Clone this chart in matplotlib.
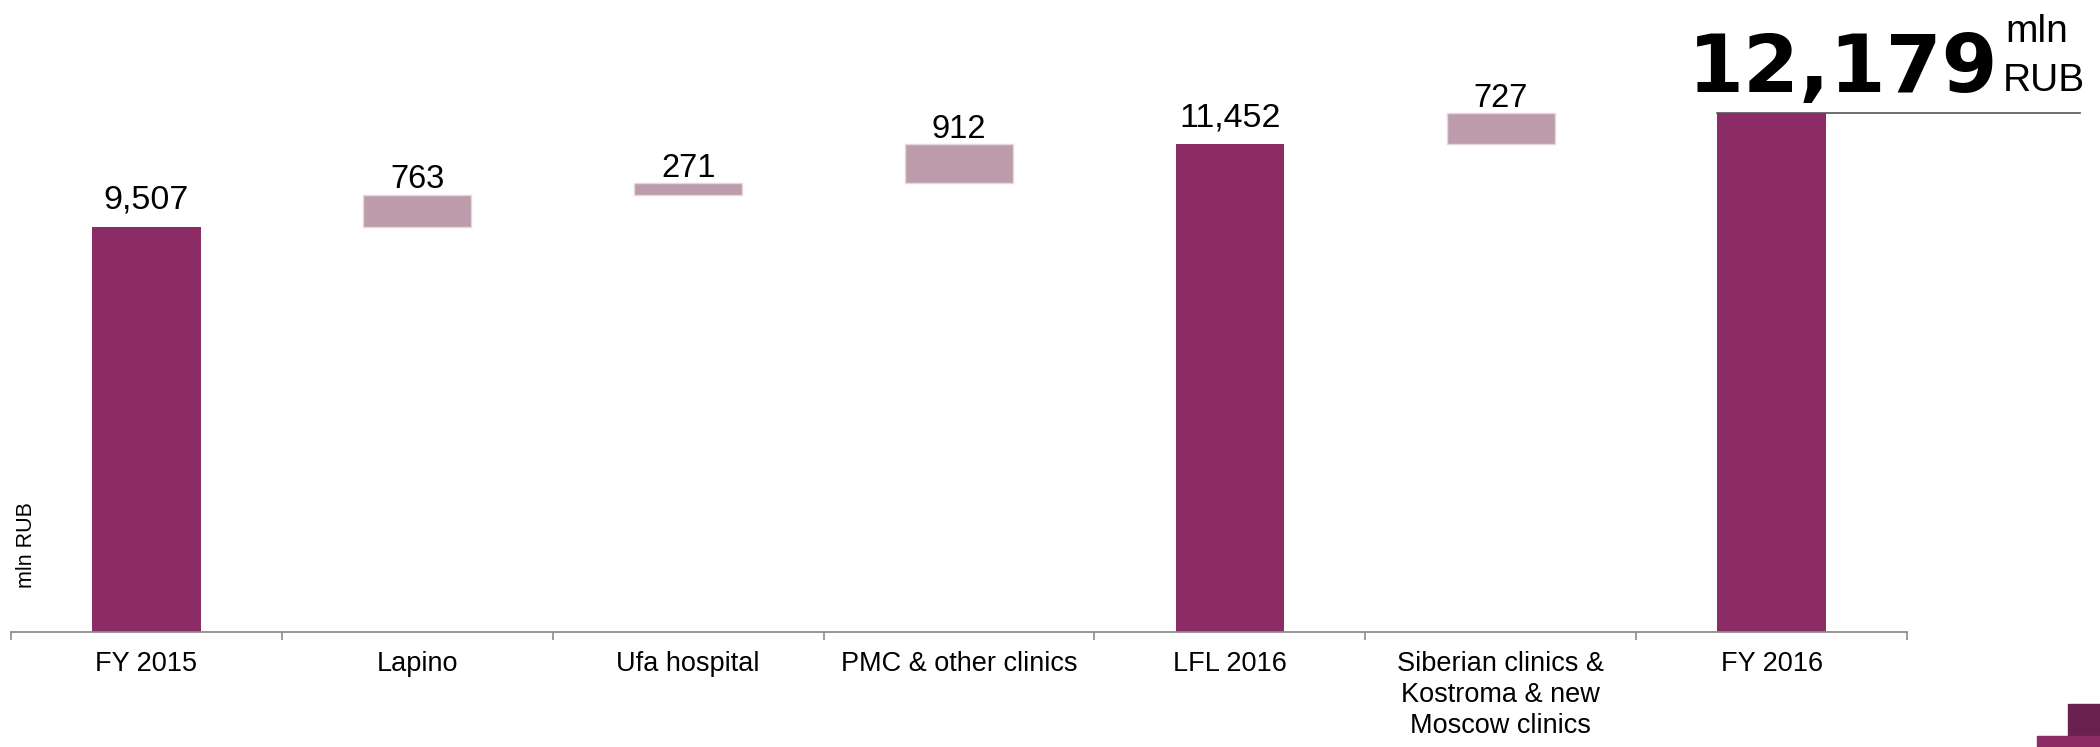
import numpy as np
import matplotlib.pyplot as plt
from matplotlib.patches import Rectangle

plt.rcParams['font.family'] = ['Liberation Sans', 'DejaVu Sans']

# Revenue bridge FY 2015 -> FY 2016, mln RUB
categories = ["FY 2015", "Lapino", "Ufa hospital", "PMC & other clinics", "LFL 2016",
              "Siberian clinics &\nKostroma & new\nMoscow clinics", "FY 2016"]
values = [9507, 763, 271, 912, 11452, 727, 12179]
is_total = [True, False, False, False, True, False, True]

total_color = '#8b2c66'
step_color = '#bc9baa'

fig = plt.figure(figsize=(21, 7.47), dpi=100)
ax = fig.add_axes([11 / 2100, 1 - 632 / 747, (1907 - 11) / 2100, 632 / 747])

x = np.arange(len(categories))
bottoms = []
running = 0
for v, t in zip(values, is_total):
    if t:
        bottoms.append(0)
        running = v
    else:
        bottoms.append(running)
        running += v

w = 0.4
for i, (v, b, t) in enumerate(zip(values, bottoms, is_total)):
    if t:
        ax.bar(x[i], v, w, bottom=b, color=total_color, zorder=2)
    else:
        ax.bar(x[i], v, w, bottom=b, color=step_color, edgecolor='#e6d6de',
               linewidth=1, zorder=2)
    if i == len(values) - 1:
        continue
    label = f"{v:,}"
    ax.annotate(label, (x[i], b + v), xytext=(0, 8 if t else -0.5),
                textcoords='offset points', ha='center', va='bottom',
                fontsize=24.5 if t else 23.5, color='black')

ax.set_xlim(-0.5, len(categories) - 0.5)
ax.set_ylim(0, 14836)

for s in ['top', 'right', 'left']:
    ax.spines[s].set_visible(False)
ax.spines['bottom'].set_color('#8c8c8c')
ax.spines['bottom'].set_linewidth(1.3)
ax.set_yticks([])

ax.set_xticks(np.arange(-0.5, len(categories)), labels=[''] * (len(categories) + 1))
ax.tick_params(axis='x', which='major', length=6, width=1.2, color='#8c8c8c', direction='out')
ax.set_xticks(x, labels=categories, minor=True)
ax.tick_params(axis='x', which='minor', length=0, pad=14, labelsize=19.5)
for lab in ax.get_xticklabels(minor=True):
    lab.set_linespacing(1.25)

fig.text(26 / 2100, 1 - 545 / 747, "mln RUB", rotation=90, ha='center', va='center',
         fontsize=15.5)

# headline for the final total
last = len(values) - 1
ax.plot([x[last] - w / 2, x[last] + 0.64 + 0.5], [values[last], values[last]],
        color='#555555', linewidth=1.2, clip_on=False, zorder=3)
fig.text(1998 / 2100, 1 - 92 / 747, f"{values[last]:,}", ha='right', va='baseline',
         fontsize=58, fontweight='bold', family='DejaVu Sans', color='black')
fig.text(2003 / 2100, 1 - 91 / 747, "RUB", ha='left', va='baseline', fontsize=28)
fig.text(2005 / 2100, 1 - 42 / 747, "mln", ha='left', va='baseline', fontsize=28)

# corner decoration
fig.patches.append(Rectangle((2068 / 2100, 1 - 736 / 747), 32 / 2100, 32 / 747,
                             transform=fig.transFigure, color='#6b2150'))
fig.patches.append(Rectangle((2037 / 2100, 0), 63 / 2100, 11 / 747,
                             transform=fig.transFigure, color=total_color))

plt.savefig('out.png', dpi=100)
